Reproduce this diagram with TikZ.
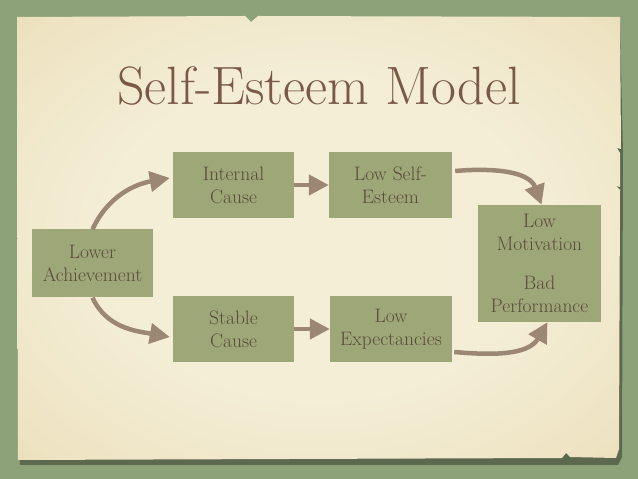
\documentclass[tikz,border=0pt]{standalone}
\usepackage{xcolor}
\usepackage{tikz}
\usetikzlibrary{arrows.meta}
\definecolor{SEBack}{HTML}{8EA27A}
\definecolor{SEPaperIn}{HTML}{F4EED6}
\definecolor{SEPaperMid}{HTML}{EEE3C2}
\definecolor{SEPaperOut}{HTML}{D9BF8D}
\definecolor{SEBox}{HTML}{9DA777}
\definecolor{SEText}{HTML}{5B4A3C}
\definecolor{SETitle}{HTML}{7A5A47}
\definecolor{SEArrow}{HTML}{9C8674}
\pgfdeclareradialshading{paperlight}{\pgfpoint{0bp}{0bp}}{%
  color(0bp)=(SEPaperIn); color(18bp)=(SEPaperIn); color(33bp)=(SEPaperMid);
  color(50bp)=(SEPaperOut)}
\tikzset{
  greenbox/.style={fill=SEBox,text=SEText,inner sep=0pt,align=center,
    minimum width=121pt,minimum height=66pt,
    font=\fontsize{19.5}{23}\selectfont},
  chalk/.style={draw=SEArrow,line width=4.5pt,
    -{Triangle[length=20pt,width=20pt]}}
}

\begin{document}
\begin{tikzpicture}[x=1pt,y=1pt]
\path[use as bounding box] (0,0) rectangle (638,479);
\fill[SEBack] (0,0) rectangle (638,479);
% paper, its shadow and the torn edges
\fill[black,opacity=.35] (19,457) -- (620,457) -- (623,326) -- (622,22) -- (618,14) -- (20,14) -- cycle;
\shade[shading=paperlight]
  (17,462) -- (245,463) -- (251,457) -- (258,463) -- (620,462) -- (621,330)
  -- (617,331) -- (620,326) -- (620,292) -- (616,293) -- (620,289)
  -- (619,30) -- (616,21) -- (570,22) -- (566,26) -- (562,21) -- (18,19) -- cycle;
\node[text=SETitle,font=\fontsize{54}{54}\selectfont] (title) at (319,393) {Self-Esteem Model};
\node[greenbox,minimum height=68pt] (ach) at (92.5,215.5) {Lower\\Achievement};
\node[greenbox] (int) at (233.5,294) {Internal\\Cause};
\node[greenbox,minimum width=123pt] (lse) at (390.5,294) {Low Self-\\Esteem};
\node[greenbox] (stc) at (233.5,150) {Stable\\Cause};
\node[greenbox,minimum width=122pt] (lex) at (391,150) {Low\\Expectancies};
\node[greenbox,minimum width=123pt,minimum height=117pt] (mot) at (539.5,215.5)
  {Low\\Motivation\\[16pt]Bad\\Performance};
\draw[chalk] (ach.north) to[out=65,in=190] ([yshift=7pt,xshift=-3pt]int.west);
\draw[chalk] (ach.south) to[out=-65,in=170] ([yshift=-8pt,xshift=-3pt]stc.west);
\draw[chalk] (int.east) -- (lse.west);
\draw[chalk] (stc.east) -- (lex.west);
\draw[chalk] ([yshift=14pt,xshift=3pt]lse.east) to[out=5,in=110] ([xshift=2pt]mot.north);
\draw[chalk] ([yshift=-23pt,xshift=2pt]lex.east) to[out=-5,in=240] ([xshift=8pt]mot.south);
\end{tikzpicture}
\end{document}
